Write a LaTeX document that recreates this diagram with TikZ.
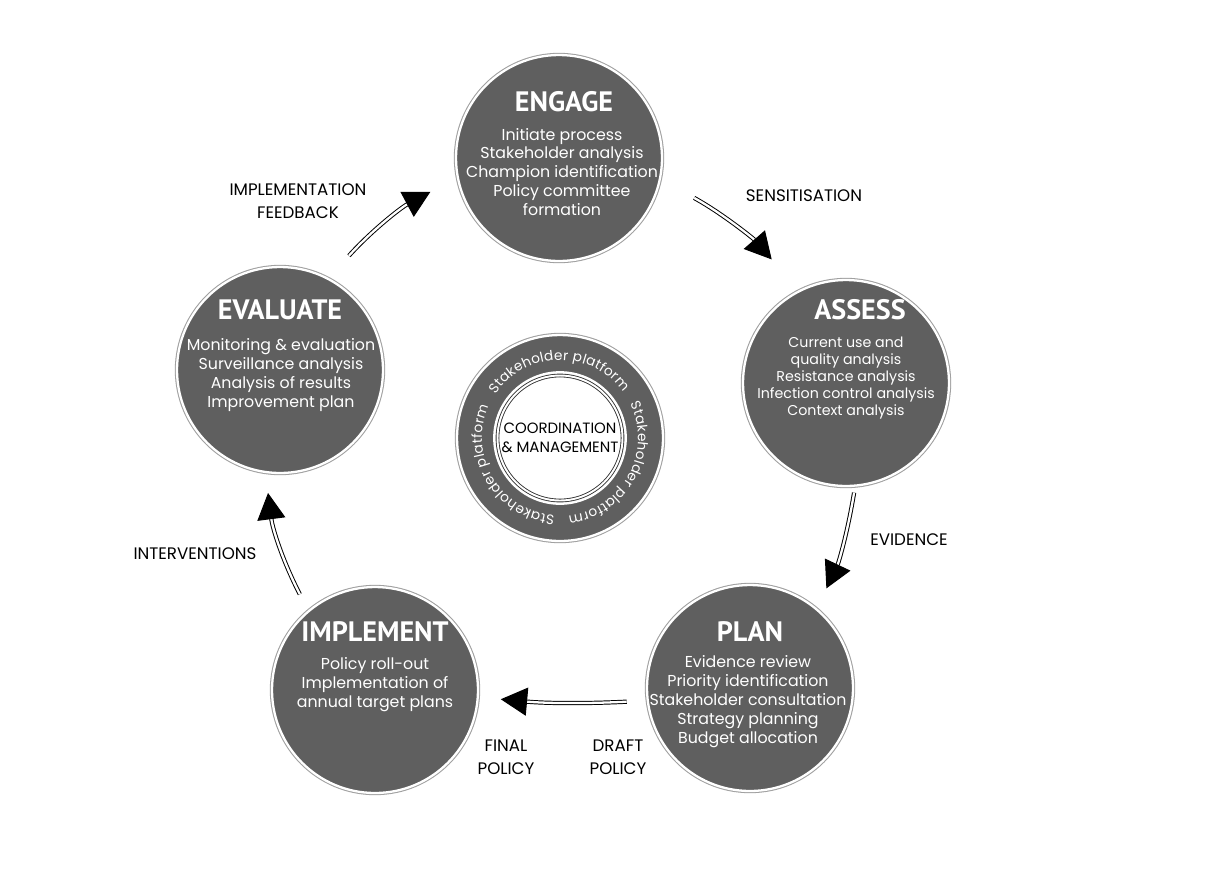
\documentclass[tikz,border=0pt]{standalone}
\usepackage{fontspec}
\setmainfont{Poppins}
\newfontfamily\titlefont{PT Sans}
\usetikzlibrary{calc,positioning,arrows.meta,decorations.text}
\definecolor{stagegray}{HTML}{5F5F5F}
\definecolor{ringgray}{HTML}{A0A0A0}
\tikzset{%
    stage/.style={%
        circle, inner sep=0pt, minimum size=4.12cm, fill=stagegray,
        draw=white, line width=1.3pt, preaction={draw=ringgray, line width=2.5pt}
    },
    hubcore/.style={%
        circle, inner sep=0pt, minimum size=2.5cm, fill=white, align=center,
        draw=black!80, double=white, double distance=1.1pt, line width=0.5pt,
        preaction={draw=white, line width=5pt},
        font=\fontsize{8.5}{10.5}\selectfont
    },
    title/.style={%
        text=white, font=\titlefont\fontsize{16}{18}\selectfont\bfseries
    },
    body/.style={%
        text=white, align=center, inner sep=0pt, font=\fontsize{9}{10.8}\selectfont
    },
    flowlabel/.style={%
        align=center, inner sep=0pt, font=\fontsize{9.5}{13}\selectfont
    },
    flow/.style={%
        draw=black, double=white, double distance=1.3pt, line width=0.55pt,
        -{Triangle[length=15pt,width=16pt]}
    },
}
\begin{document}
\begin{tikzpicture}[x=0.02cm,y=0.02cm]
    \useasboundingbox (0,0) rectangle (1210,-870);
    % stages
    \node[stage] (engage) at (559,-158) {};
    \node[stage] (assess) at (846,-383) {};
    \node[stage] (plan) at (750,-688) {};
    \node[stage] (implement) at (375,-690) {};
    \node[stage] (evaluate) at (280,-370) {};
    \node[stage] (hub) at (560,-438) {};
    \node[hubcore] (coord) at (hub) {COORDINATION\\\& MANAGEMENT};

    \node[title] (engagetitle) at ($(engage)+(5,56)$) {ENGAGE};
    \node[body] (engagebody) at ($(engage)+(3,-14)$) {Initiate process\\Stakeholder analysis\\Champion identification\\Policy committee\\formation};
    \node[title] (assesstitle) at ($(assess)+(14,73)$) {ASSESS};
    \node[body, font=\fontsize{8.1}{9.8}\selectfont] (assessbody) at ($(assess)+(0,5)$) {Current use and\\quality analysis\\Resistance analysis\\Infection control analysis\\Context analysis};
    \node[title] (plantitle) at ($(plan)+(0,56)$) {PLAN};
    \node[body] (planbody) at ($(plan)+(-2,-14)$) {Evidence review\\Priority identification\\Stakeholder consultation\\Strategy planning\\Budget allocation};
    \node[title] (implementtitle) at ($(implement)+(0,58)$) {IMPLEMENT};
    \node[body] (implementbody) at ($(implement)+(0,5)$) {Policy roll-out\\Implementation of\\annual target plans};
    \node[title] (evaluatetitle) at ($(evaluate)+(0,60)$) {EVALUATE};
    \node[body] (evaluatebody) at ($(evaluate)+(1,-5)$) {Monitoring \& evaluation\\Surveillance analysis\\Analysis of results\\Improvement plan};

    % stakeholder platform ring
    \foreach \a in {91,-29,-149}
      \path[decorate, decoration={text along path, text align=fit to path,
          text={|\fontsize{7.8}{9}\selectfont\color{white}|Stakeholder platform}}]
        ([shift={(\a+55:78)}]hub.center) arc[start angle=\a+55, end angle=\a-55, radius=78];

    % cycle
    \draw[flow, shorten <=0.76cm, shorten >=0.82cm] (engage.-12) to[bend left=10] (assess.117);
    \draw[flow, shorten <=0.12cm, shorten >=0.44cm] (assess.-85) to[bend left=8] (plan.50);
    \draw[flow, shorten <=0.40cm, shorten >=0.44cm] (plan.187) to[bend left=4] (implement.-4);
    \draw[flow, shorten <=0.36cm, shorten >=0.40cm] (implement.130) to[bend left=10] (evaluate.-98);
    \draw[flow, shorten <=0.60cm, shorten >=0.60cm] (evaluate.62) to[bend left=10] (engage.191);

    \node[flowlabel] (sens) at (804,-196) {SENSITISATION};
    \node[flowlabel] (evid) at (909,-540) {EVIDENCE};
    \node[flowlabel] (draft) at (618,-757) {DRAFT\\POLICY};
    \node[flowlabel] (final) at (506,-757) {FINAL\\POLICY};
    \node[flowlabel] (interv) at (195,-554) {INTERVENTIONS};
    \node[flowlabel] (feedback) at (298,-201) {IMPLEMENTATION\\FEEDBACK};
\end{tikzpicture}
\end{document}
